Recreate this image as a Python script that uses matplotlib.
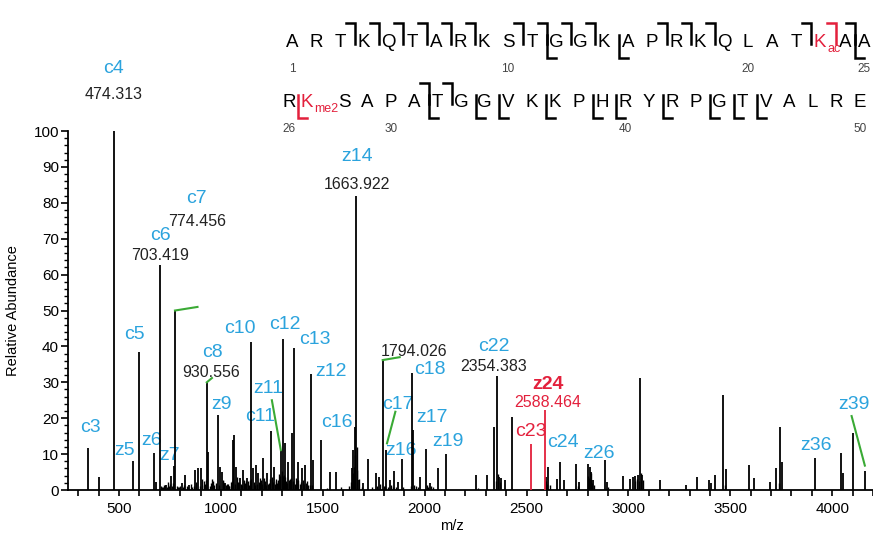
import matplotlib.pyplot as plt
from matplotlib.ticker import MultipleLocator

plt.rcParams['font.family'] = ['Liberation Sans', 'DejaVu Sans']

# пики спектра: m/z и относительная интенсивность
peak_mz = [348, 400, 474.3, 569, 599.5, 673, 680, 703.4, 730, 753, 768, 774.5,
           807, 823, 845, 872, 889, 902, 930.6, 938, 984, 995, 1003, 1020,
           1057, 1065, 1073, 1093, 1106, 1126, 1145.6, 1155, 1172, 1183, 1207,
           1227, 1244, 1260, 1294, 1302.5, 1314, 1330, 1348, 1359, 1379, 1396,
           1412, 1440, 1452, 1489, 1534, 1564, 1641, 1648, 1657, 1663.9, 1673,
           1697, 1722, 1763, 1776, 1794.0, 1812, 1828, 1849, 1869, 1889, 1939.7,
           1943, 1975, 2005, 2024, 2065, 2103, 2250, 2307, 2340, 2354.4, 2363,
           2376, 2392, 2430, 2597, 2605, 2649, 2662, 2683, 2744, 2756, 2802,
           2809, 2817, 2825, 2886, 2896, 2975, 3008, 3021, 3034, 3046, 3057,
           3065, 3157, 3283, 3335, 3397, 3407, 3423, 3466, 3479, 3593, 3614,
           3696, 3724, 3744, 3751, 3917, 4044, 4054, 4103, 4160]
peak_int = [11.7, 3.6, 100, 8.0, 38.4, 10.2, 2.3, 62.7, 1.4, 4.0, 6.8, 50,
            1.9, 4.1, 1.4, 5.6, 6.2, 6.0, 30, 10.7, 20.9, 6.5, 5.1, 1.9,
            13.9, 15.3, 6.5, 3.3, 5.6, 3.3, 41.2, 6.0, 7.0, 4.6, 8.8,
            4.6, 16.3, 6.5, 11.1, 42, 13.0, 7.9, 16, 39.5, 7.9, 6.0,
            7.0, 32.2, 8.4, 13.9, 5.1, 5.1, 6.0, 11.1, 17.6, 82, 2.8,
            1.9, 8.5, 4.6, 3.7, 36.2, 11.1, 2.8, 5.4, 2.3, 8.5, 32.6,
            16.7, 3.7, 11.3, 1.9, 6.0, 10, 4.2, 4.2, 17.6, 31.8, 3.7,
            3.3, 2.8, 20.4, 3.7, 6.5, 3.0, 7.9, 2.8, 7.2, 2.3, 7.2,
            6.5, 5.1, 2.8, 8.4, 2.3, 3.9, 3.0, 3.7, 3.9, 4.2, 31.3,
            4.2, 2.8, 1.4, 3.5, 2.8, 1.9, 4.2, 26.5, 5.8, 7.0, 3.3,
            2.3, 6.2, 17.6, 7.9, 9.0, 10.2, 4.6, 15.8, 5.4]

# мелкие пики (шум)
noise_mz = [712, 722, 738, 746, 782, 795, 832, 858, 880, 915,
            924, 950, 958, 968, 1012, 1028, 1038, 1048, 1078, 1084,
            1098, 1112, 1118, 1132, 1138, 1150, 1162, 1178, 1196, 1212,
            1220, 1235, 1250, 1268, 1276, 1284, 1290, 1298, 1308, 1320,
            1338, 1352, 1366, 1372, 1386, 1402, 1418, 1426, 1646, 1652,
            1660, 1667, 1670, 1678, 1768, 1782, 1800, 1818, 1836, 1858,
            1948, 1955, 2012, 2018, 2030, 2358, 2368, 2594, 2800, 2806,
            2814, 2820, 3040, 3052, 3061, 3070]
noise_int = [0.8, 1.5, 2.2, 1.2, 1.0, 0.7, 1.1, 0.9, 1.6, 2.5,
             1.8, 2.0, 3.2, 1.4, 2.6, 1.7, 1.2, 2.3, 3.5, 2.1,
             1.6, 2.9, 1.9, 2.4, 1.3, 3.1, 2.2, 1.8, 2.7, 3.3,
             1.5, 2.0, 3.6, 2.4, 1.9, 4.5, 3.8, 5.2, 4.1, 2.6,
             3.0, 2.2, 3.4, 2.8, 1.7, 2.9, 2.0, 1.4, 4.8, 6.5,
             9.8, 12.0, 5.5, 3.1, 1.2, 1.6, 1.1, 0.9, 1.3, 0.8,
             1.5, 1.0, 1.4, 0.9, 1.1, 4.5, 2.2, 2.6, 4.0, 3.4,
             4.6, 2.0, 3.2, 2.6, 4.8, 2.9]
noise2_mz = [705, 718, 728, 734, 750, 758, 764, 788, 800, 812,
             818, 840, 852, 866, 876, 895, 906, 918, 928, 944,
             962, 975, 990, 1008, 1016, 1024, 1034, 1042, 1053, 1061,
             1069, 1088, 1104, 1122, 1142, 1168, 1186, 1192, 1202, 1216,
             1230, 1240, 1256, 1264, 1272, 1280, 1304, 1316, 1326, 1334,
             1344, 1356, 1362, 1376, 1392, 1408, 1422, 1436, 1448, 1520,
             1590, 1630, 1636, 1690, 1742, 1806, 1842, 1894, 1934, 1966,
             2040, 2260, 2348, 2600, 2614, 2752, 2830, 2900, 3030, 3475,
             3740]
noise2_int = [1.0, 0.8, 1.3, 0.9, 1.6, 1.2, 2.0, 0.9, 1.1, 0.7,
              1.4, 0.9, 1.8, 1.2, 2.1, 1.0, 3.0, 1.5, 2.8, 1.2,
              2.4, 1.9, 1.5, 2.7, 2.0, 1.3, 1.8, 1.1, 2.4, 3.0,
              1.7, 2.2, 1.4, 2.6, 2.9, 1.5, 2.1, 3.4, 1.6, 2.5,
              1.8, 3.0, 2.3, 1.6, 3.2, 2.8, 4.0, 3.6, 1.9, 2.7,
              3.3, 2.5, 1.8, 2.9, 2.2, 1.6, 2.4, 1.3, 1.5, 0.6,
              0.8, 1.0, 2.2, 0.8, 0.7, 1.0, 0.9, 0.8, 1.2, 0.9,
              0.8, 0.6, 2.5, 1.8, 1.4, 1.0, 1.5, 0.8, 2.4, 1.5,
              2.0]

# красные пики (c23, z24)
red_mz = [2519.6, 2588.5]
red_int = [12.9, 22.3]

# подписи ионов: текст, m/z, высота подписи
ion_text = ['c3', 'c4', 'z5', 'c5', 'z6', 'z7', 'c6', 'c7', 'c8', 'z9', 'c10',
            'z11', 'c11', 'c12', 'c13', 'z12', 'c16', 'z14', 'c17', 'z16',
            'c18', 'z17', 'z19', 'c22', 'c24', 'z26', 'z36', 'z39']
ion_x = [358, 475, 529, 578, 662, 750, 701, 882, 956, 1005, 1093,
         1230, 1191, 1314, 1461, 1539, 1569, 1667, 1868, 1882,
         2025, 2034, 2113, 2338, 2676, 2853, 3922, 4108]
ion_y = [17.3, 117.5, 10.9, 43.2, 13.9, 9.7, 70.8, 81.3, 38.4, 23.7, 45.1,
         28.4, 20.6, 46.2, 41.8, 33.1, 18.9, 92.8, 23.7, 11.1,
         33.7, 20.1, 13.6, 40.1, 13.1, 10.3, 12.5, 23.7]

mass_text = ['474.313', '703.419', '774.456', '930.556', '1663.922',
             '1794.026', '2354.383']
mass_x = [474, 701, 882, 951, 1667, 1946, 2338]
mass_y = [110.3, 65.2, 74.9, 32.6, 85.2, 38.7, 34.5]

# зелёные выноски
leaders = [((774.5, 885), (50, 51)), ((930.6, 956), (30, 31.2)),
           ((1250, 1294), (25, 11.1)), ((1794, 1877), (36.2, 37)),
           ((1856, 1815), (21.8, 13.0)), ((4095, 4160), (20.6, 6.8))]

sequence = 'ARTKQTARKSTGGKAPRKQLATKAARKSAPATGGVKKPHRYRPGTVALRE'
c_sites = [3, 4, 5, 6, 7, 8, 10, 11, 12, 13, 16, 17, 18, 22, 23, 24, 31, 32]
z_ions = [5, 6, 7, 9, 11, 12, 14, 16, 17, 19, 24, 26, 36, 39]
red_c = [23]
red_z = [24]

blue = '#2ba3dd'
red = '#e3203c'
green = '#3aaa35'

fig = plt.figure(figsize=(8.73, 5.37), dpi=100)
ax = fig.add_axes([0.078, 0.0875, 0.922, 0.6685])

ax.vlines(noise_mz, 0, noise_int, color='black', lw=1.0, zorder=3)
ax.vlines(noise2_mz, 0, noise2_int, color='black', lw=1.0, zorder=3)
ax.vlines(peak_mz, 0, peak_int, color='black', lw=1.3, zorder=3)
ax.vlines(red_mz, 0, red_int, color=red, lw=1.3, zorder=3)

ax.set_xlim(250, 4200)
ax.set_ylim(0, 100)
ax.spines['top'].set_visible(False)
ax.spines['right'].set_visible(False)
for s in ['left', 'bottom']:
    ax.spines[s].set_linewidth(1.3)

ax.xaxis.set_major_locator(MultipleLocator(500))
ax.xaxis.set_minor_locator(MultipleLocator(100))
ax.yaxis.set_major_locator(MultipleLocator(10))
ax.yaxis.set_minor_locator(MultipleLocator(2))
ax.tick_params(axis='x', which='both', direction='out', length=4.5, width=1.2,
               labelsize=11, pad=4)
ax.tick_params(axis='y', which='major', direction='out', length=5, width=1.2,
               labelsize=11, pad=1.5)
ax.tick_params(axis='y', which='minor', direction='out', length=3, width=1.0)

ax.set_ylabel('Relative Abundance', fontsize=10.5)
ax.yaxis.set_label_coords(-0.06, 0.5)
ax.set_xlabel('m/z', fontsize=10.5)
ax.xaxis.set_label_coords(0.477, -0.08)

for t, x, y in zip(ion_text, ion_x, ion_y):
    ax.text(x, y, t, color=blue, fontsize=14, ha='center', va='center',
            clip_on=False, zorder=2)
for t, x, y in zip(mass_text, mass_x, mass_y):
    ax.text(x, y, t, color='#222222', fontsize=11.5, ha='center', va='center',
            clip_on=False, zorder=2)
ax.text(2520, 16.4, 'c23', color=red, fontsize=14, ha='center', va='center', zorder=2)
ax.text(2603, 29.5, 'z24', color=red, fontsize=14, ha='center', va='center',
        fontweight='bold', zorder=2)
ax.text(2603, 24.5, '2588.464', color=red, fontsize=11.5, ha='center', va='center', zorder=2)

for xs, ys in leaders:
    ax.plot(xs, ys, color=green, lw=1.5, clip_on=False, zorder=4)

# последовательность пептида сверху (координаты в пикселях)
ov = fig.add_axes([0, 0, 1, 1])
ov.set_xlim(0, 873)
ov.set_ylim(537, 0)
ov.axis('off')
ov.patch.set_visible(False)

row1_x = [292 + 24 * i for i in range(23)] + [845, 864]
row2_x = [289, 307] + [344 + 23.45 * j for j in range(23)]
res_x = row1_x + row2_x
base = [47] * 25 + [107] * 25

for i, aa in enumerate(sequence):
    n = i + 1
    col = red if n in (23, 27) else 'black'
    ov.text(res_x[i], base[i], aa, fontsize=13.5, color=col, ha='center', va='baseline')
ov.text(res_x[22] + 7, base[22] + 5, 'ac', fontsize=9, color=red, ha='left', va='baseline')
ov.text(res_x[26] + 7, base[26] + 5, 'me2', fontsize=9, color=red, ha='left', va='baseline')

for n in [1, 10, 20, 25, 26, 30, 40, 50]:
    ov.text(res_x[n - 1], base[n - 1] + 25, str(n), fontsize=8.5, color='#444444',
            ha='center', va='baseline')

hook = 9
for n in c_sites:
    xb = res_x[n] - 9
    b = base[n]
    col = red if n in red_c else 'black'
    ov.plot([xb - hook, xb, xb], [b - 24, b - 24, b - 3], color=col, lw=1.8,
            solid_joinstyle='miter')
for zi in z_ions:
    n = 50 - zi
    xb = res_x[n] - 9
    b = base[n]
    col = red if zi in red_z else 'black'
    ov.plot([xb, xb, xb + hook], [b - 12, b + 11, b + 11], color=col, lw=1.8,
            solid_joinstyle='miter')

fig.savefig('out.png', dpi=100)
